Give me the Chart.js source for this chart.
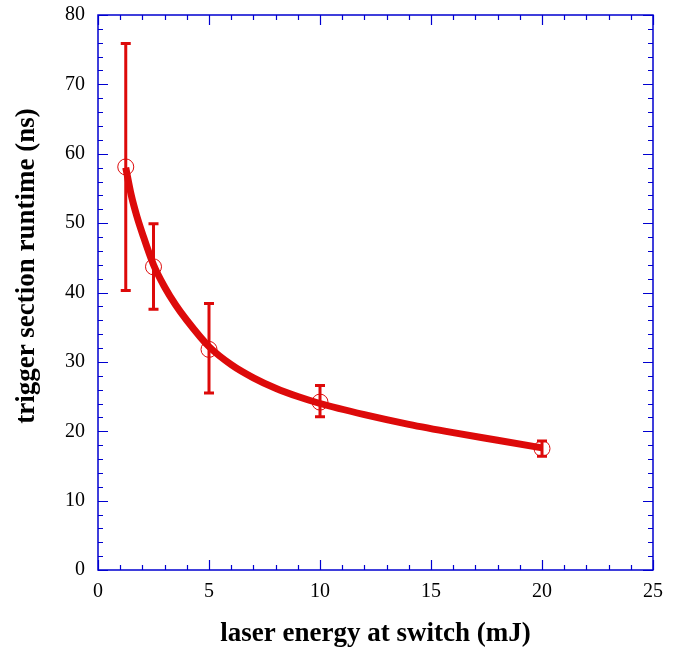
<!DOCTYPE html>
<html>
<head>
<meta charset="utf-8">
<script src="https://cdn.jsdelivr.net/npm/chart.js@4/dist/chart.umd.min.js"></script>
<style>
html,body{margin:0;padding:0;background:#fff;}
#wrap{width:677px;height:650px;position:relative;}
</style>
</head>
<body>
<div id="wrap"><canvas id="c" width="677" height="650"></canvas></div>
<script>
// ---- data ----
const energy = [1.25, 2.5, 5, 10, 20];
const runtime = [58.1, 43.7, 31.8, 24.2, 17.5];
const errLow = [40.3, 37.6, 25.5, 22.1, 16.4];
const errHigh = [75.9, 49.9, 38.4, 26.6, 18.6];
const fitX = [1.25, 1.5, 1.75, 2, 2.5, 3, 3.5, 4, 5, 6, 7, 8, 9, 10, 12, 14, 16, 18, 20];
const fitY = [58.0, 54.0, 51.0, 48.5, 44.0, 40.8, 38.2, 36.0, 32.2, 29.6, 27.7, 26.2, 25.0, 24.0, 22.4, 21.0, 19.8, 18.7, 17.6];
const xTicks = [0, 5, 10, 15, 20, 25];
const yTicks = [0, 10, 20, 30, 40, 50, 60, 70, 80];
const xMinorStep = 1;
const yMinorStep = 2;
const xTitle = 'laser energy at switch (mJ)';
const yTitle = 'trigger section runtime (ns)';

const RED = '#dd0a0a';
const BLUE = '#0000d0';

const errorBars = {
  id: 'errorBars',
  afterDatasetsDraw(chart) {
    const ctx = chart.ctx, xs = chart.scales.x, ys = chart.scales.y;
    ctx.save();
    ctx.strokeStyle = RED;
    ctx.lineWidth = 3;
    ctx.lineCap = 'butt';
    for (let i = 0; i < energy.length; i++) {
      const px = xs.getPixelForValue(energy[i]);
      const lo = ys.getPixelForValue(errLow[i]);
      const hi = ys.getPixelForValue(errHigh[i]);
      ctx.beginPath();
      ctx.moveTo(px, lo); ctx.lineTo(px, hi);
      ctx.moveTo(px - 5, lo); ctx.lineTo(px + 5, lo);
      ctx.moveTo(px - 5, hi); ctx.lineTo(px + 5, hi);
      ctx.stroke();
    }
    ctx.restore();
  }
};

const frameTicks = {
  id: 'frameTicks',
  afterDraw(chart) {
    const ctx = chart.ctx, xs = chart.scales.x, ys = chart.scales.y;
    const a = chart.chartArea;
    ctx.save();
    ctx.strokeStyle = BLUE;
    ctx.lineWidth = 1.5;
    ctx.strokeRect(a.left, a.top, a.right - a.left, a.bottom - a.top);
    ctx.lineWidth = 1.2;
    ctx.beginPath();
    for (let v = xs.min; v <= xs.max + 1e-9; v += xMinorStep) {
      const major = xTicks.includes(v);
      const len = major ? 10 : 5;
      const px = Math.round(xs.getPixelForValue(v)) + 0.5;
      ctx.moveTo(px, a.bottom); ctx.lineTo(px, a.bottom - len);
      ctx.moveTo(px, a.top); ctx.lineTo(px, a.top + len);
    }
    for (let v = ys.min; v <= ys.max + 1e-9; v += yMinorStep) {
      const major = yTicks.includes(v);
      const len = major ? 10 : 5;
      const py = Math.round(ys.getPixelForValue(v)) + 0.5;
      ctx.moveTo(a.left, py); ctx.lineTo(a.left + len, py);
      ctx.moveTo(a.right, py); ctx.lineTo(a.right - len, py);
    }
    ctx.stroke();
    // y axis title
    ctx.fillStyle = '#000';
    ctx.font = 'bold 27px "Liberation Serif"';
    ctx.textAlign = 'center';
    ctx.textBaseline = 'middle';
    ctx.translate(27, 266);
    ctx.rotate(-Math.PI / 2);
    ctx.fillText(yTitle, 0, 0);
    ctx.restore();
  }
};

new Chart(document.getElementById('c'), {
  type: 'scatter',
  data: {
    datasets: [
      {
        label: 'fit',
        data: fitX.map((x, i) => ({x: x, y: fitY[i]})),
        showLine: true,
        borderColor: RED,
        borderWidth: 7,
        pointRadius: 0,
        cubicInterpolationMode: 'monotone',
        fill: false,
        order: 2
      },
      {
        label: 'runtime',
        data: energy.map((x, i) => ({x: x, y: runtime[i]})),
        showLine: false,
        pointRadius: 8,
        pointStyle: 'circle',
        pointBackgroundColor: 'rgba(0,0,0,0)',
        pointBorderColor: RED,
        pointBorderWidth: 1,
        order: 1
      }
    ]
  },
  options: {
    responsive: false,
    animation: false,
    devicePixelRatio: 1,
    layout: { padding: { top: 15, right: 24, left: 0, bottom: 0 } },
    plugins: { legend: { display: false }, tooltip: { enabled: false } },
    scales: {
      x: {
        type: 'linear', min: 0, max: 25,
        afterBuildTicks: s => { s.ticks = xTicks.map(v => ({value: v})); },
        afterFit: s => { s.height = 80; s.paddingLeft = 0; s.paddingRight = 0; },
        grid: { display: false, drawTicks: false },
        border: { display: false },
        ticks: { padding: 10, color: '#000', font: { family: 'Liberation Serif', size: 20 } },
        title: { display: true, text: xTitle, color: '#000',
                 padding: { top: 0, bottom: 0 },
                 font: { family: 'Liberation Serif', size: 27, weight: 'bold' } }
      },
      y: {
        type: 'linear', min: 0, max: 80,
        afterBuildTicks: s => { s.ticks = yTicks.map(v => ({value: v})); },
        afterFit: s => { s.width = 98; s.paddingTop = 0; s.paddingBottom = 0; },
        grid: { display: false, drawTicks: false },
        border: { display: false },
        ticks: { padding: 13, color: '#000', font: { family: 'Liberation Serif', size: 20 } },
        title: { display: false }
      }
    }
  },
  plugins: [errorBars, frameTicks]
});
</script>
</body>
</html>
